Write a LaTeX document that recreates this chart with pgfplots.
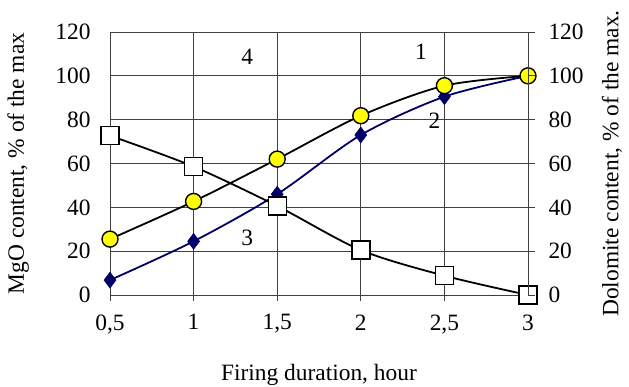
\documentclass[border=0pt]{standalone}
\usepackage{pgfplots}
\pgfplotsset{compat=1.18}
\usepackage{fontspec}
\setmainfont{Liberation Serif}
\definecolor{navyd}{HTML}{000066}
\definecolor{yel}{HTML}{FFFF00}
\definecolor{gridc}{HTML}{404040}
\begin{document}
\begin{tikzpicture}
\useasboundingbox (-110bp,-92bp) rectangle (519bp,295bp);
\begin{axis}[
  at={(0,0)}, anchor=south west,
  scale only axis, width=418bp, height=263bp,
  xmin=0.5, xmax=3, ymin=0, ymax=120,
  xtick={0.5,1,1.5,2,2.5,3},
  xticklabels={{0,5},1,{1,5},2,{2,5},3},
  ytick={0,20,40,60,80,100,120},
  grid=major,
  major grid style={gridc, line width=0.8bp},
  axis line style={gridc, line width=0.8bp},
  tick style={gridc, line width=0.8bp},
  xtick align=outside, major tick length=6bp,
  ytick style={draw=none},
  axis y line*=left,
  axis x line*=bottom,
  font=\fontsize{23.5}{28}\selectfont,
  /pgf/number format/assume math mode=true,
  xticklabel style={yshift=-10bp},
  yticklabel style={xshift=-16bp},
  xlabel={Firing duration, hour},
  ylabel={MgO content, \% of the max},
  every axis x label/.style={at={(axis description cs:0.5,-0.304)}, anchor=center},
  every axis y label/.style={at={(axis description cs:-0.22,0.5)}, anchor=center, rotate=90},
  clip=false,
]
\addplot[navyd, line width=1.8bp, smooth, mark=diamond*, mark size=8bp, mark options={fill=navyd, draw=navyd, line width=0.5bp}]
  coordinates {(0.5,6.8) (1,24.5) (1.5,46) (2,73) (2.5,90.5) (3,100)};
\addplot[black, line width=1.8bp, smooth, mark=square*, mark size=9bp, mark options={fill=white, draw=black, line width=1.4bp}]
  coordinates {(0.5,72.7) (1,58.6) (1.5,40.6) (2,20.5) (2.5,8.8) (3,0)};
\addplot[black, line width=1.8bp, smooth, mark=*, mark size=8bp, mark options={fill=yel, draw=black, line width=1.4bp}]
  coordinates {(0.5,25.5) (1,42.7) (1.5,62) (2,81.8) (2.5,95.5) (3,100)};
\node[font=\fontsize{23.5}{28}\selectfont] at (axis cs:1.32,108.5) {4};
\node[font=\fontsize{23.5}{28}\selectfont] at (axis cs:2.36,111) {1};
\node[font=\fontsize{23.5}{28}\selectfont] at (axis cs:2.44,79.5) {2};
\node[font=\fontsize{23.5}{28}\selectfont] at (axis cs:1.32,26) {3};
\end{axis}
\begin{axis}[
  at={(0,0)}, anchor=south west,
  scale only axis, width=418bp, height=263bp,
  xmin=0.5, xmax=3, ymin=0, ymax=120,
  axis x line=none,
  axis y line*=right,
  ytick={0,20,40,60,80,100,120},
  axis line style={gridc, line width=0.8bp},
  tick style={gridc, line width=0.8bp},
  ytick align=outside, major tick length=7bp,
  font=\fontsize{23.5}{28}\selectfont,
  /pgf/number format/assume math mode=true,
  yticklabel style={xshift=10bp},
  ylabel={Dolomite content, \% of the max.},
  every axis y label/.style={at={(axis description cs:1.201,0.5)}, anchor=center, rotate=90},
]
\addplot[draw=none] coordinates {(0.5,0)};
\end{axis}
\end{tikzpicture}
\end{document}
